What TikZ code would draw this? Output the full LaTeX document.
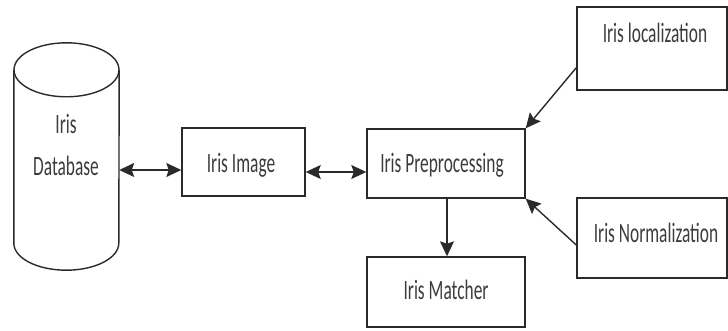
\documentclass[tikz,border=0pt]{standalone}
\usepackage{fontspec}
\setmainfont{Carlito}
\usetikzlibrary{arrows.meta}
\definecolor{edgec}{HTML}{2A2A2A}
\definecolor{textc}{HTML}{3C3C3C}
\newcommand{\lbltxt}[1]{\scalebox{0.62}[1]{\fontsize{28}{32}\selectfont #1}}
\tikzset{
  x=1pt, y=-1pt,
  box/.style={draw=edgec, line width=1.4pt, rectangle, inner sep=0pt},
  lbl/.style={anchor=base, inner sep=0pt, text=textc},
  conn/.style={draw=edgec, line width=1.4pt},
  tip/.style={-{Stealth[length=15pt, width=14pt, inset=2.5pt]}},
  tips/.style={{Stealth[length=15pt, width=14pt, inset=2.5pt]}-{Stealth[length=15pt, width=14pt, inset=2.5pt]}}
}
\begin{document}
\begin{tikzpicture}
\useasboundingbox (0,0) rectangle (728,331);

% database cylinder: body node plus its outline
\node[inner sep=0pt, minimum width=105pt, minimum height=173pt] (db) at (66.5,156.5) {};
\draw[conn] (db.north west) -- (db.south west)
  arc[start angle=180, end angle=360, x radius=52.5pt, y radius=27pt]
  -- (db.north east);
\draw[conn] (db.north) ellipse [x radius=52.5pt, y radius=27pt];
\node[lbl] (dbt1) at (66,134) {\lbltxt{Iris}};
\node[lbl] (dbt2) at (66,176) {\lbltxt{Database}};

% process boxes
\node[box, minimum width=123pt, minimum height=68pt] (img) at (243.5,162) {};
\node[lbl] (imgt) at (241,173) {\lbltxt{Iris Image}};

\node[box, minimum width=158pt, minimum height=69pt] (pre) at (446,163.5) {};
\node[lbl] (pret) at (442,173) {\lbltxt{Iris Preprocessing}};

\node[box, minimum width=158pt, minimum height=70pt] (mat) at (446,292) {};
\node[lbl] (matt) at (446,299) {\lbltxt{Iris Matcher}};

\node[box, minimum width=150pt, minimum height=83pt] (loc) at (652,48.5) {};
\node[lbl] (loct) at (655,43) {\lbltxt{Iris localization}};

\node[box, minimum width=150pt, minimum height=80pt] (nrm) at (652,238) {};
\node[lbl] (nrmt) at (656,243) {\lbltxt{Iris Normalization}};

% connectors
\coordinate (dbr) at (db.east |- 0,170);
\coordinate (imgl) at (img.west |- 0,170);
\draw[conn, tips] (dbr) -- (imgl);

\coordinate (imgr) at (img.east |- 0,172);
\coordinate (prel) at (pre.west |- 0,172);
\draw[conn, tips] (imgr) -- (prel);

\coordinate (preb) at (pre.south -| 447,0);
\coordinate (matt0) at (mat.north -| 447,0);
\draw[conn, tip] (preb) -- (matt0);

\draw[conn, tip] ([yshift=23pt]loc.south west) -- (pre.north east);
\draw[conn, tip] ([yshift=-7pt]nrm.west) -- (pre.south east);
\end{tikzpicture}
\end{document}
